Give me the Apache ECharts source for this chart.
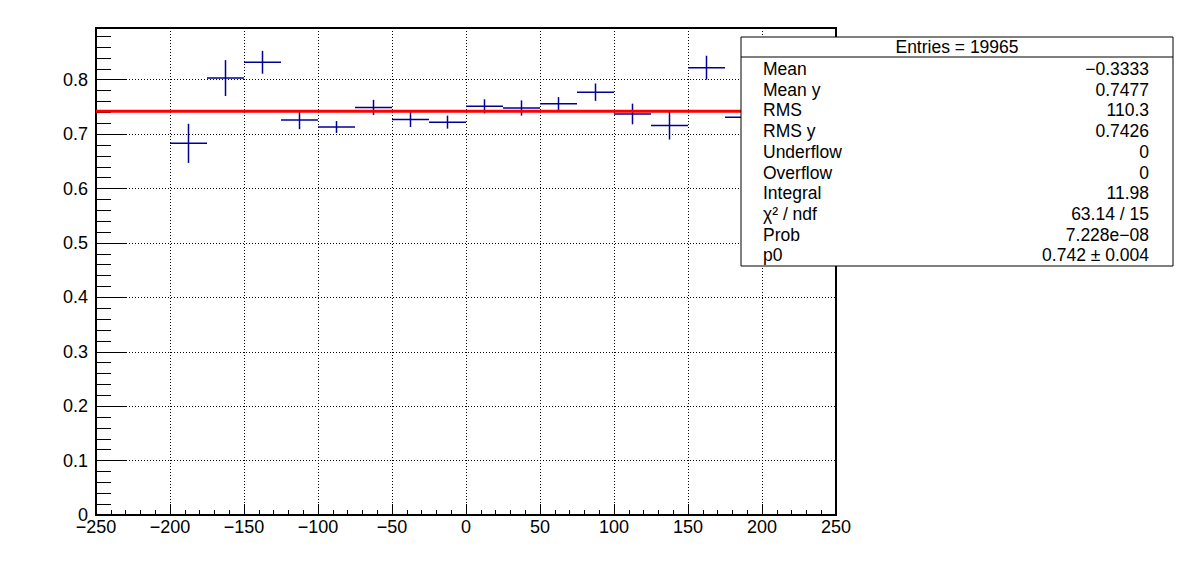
<!DOCTYPE html>
<html>
<head>
<meta charset="utf-8">
<script src="https://cdn.jsdelivr.net/npm/echarts@6/dist/echarts.min.js"></script>
<style>
html,body{margin:0;padding:0;background:#fff;}
#chart{width:1196px;height:572px;}
</style>
</head>
<body>
<div id="chart"></div>
<script>
// ---- data ----
const binCenters = [-187.5, -162.5, -137.5, -112.5, -87.5, -62.5, -37.5, -12.5, 12.5, 37.5, 62.5, 87.5, 112.5, 137.5, 162.5, 187.5];
const binHalfWidth = 12.5;
const profileMeans = [0.683, 0.803, 0.832, 0.726, 0.713, 0.749, 0.727, 0.722, 0.751, 0.748, 0.756, 0.777, 0.737, 0.716, 0.822, 0.731];
const profileErrors = [0.036, 0.033, 0.021, 0.017, 0.011, 0.014, 0.014, 0.012, 0.013, 0.014, 0.012, 0.016, 0.019, 0.026, 0.022, 0.015];
const fitP0 = 0.742;
const xRange = [-250, 250];
const yRange = [0, 0.895];
const statsTitle = 'Entries = 19965';
const statLabels = ['Mean', 'Mean y', 'RMS', 'RMS y', 'Underflow', 'Overflow', 'Integral', '\u03C7\u00B2 / ndf', 'Prob', 'p0'];
const statValues = ['\u22120.3333', '0.7477', '110.3', '0.7426', '0', '0', '11.98', '63.14 / 15', '7.228e\u221208', '0.742 \u00B1 0.004'];

const FONT = '"Liberation Sans", Arial, Helvetica, sans-serif';
const chart = echarts.init(document.getElementById('chart'), null, {renderer: 'svg'});

const crossData = binCenters.map((x, i) => [x, profileMeans[i], profileErrors[i]]);

// stats box graphics
const box = {x: 741, y: 37, w: 432, h: 229};
const SF = '17.5px ' + FONT;
const graphics = [
  {type: 'rect', z: 100, shape: {x: box.x, y: box.y, width: box.w, height: box.h},
   style: {fill: '#fff', stroke: '#000', lineWidth: 1}},
  {type: 'line', z: 101, shape: {x1: box.x, y1: 57, x2: box.x + box.w, y2: 57},
   style: {stroke: '#000', lineWidth: 1}},
  {type: 'text', z: 101, x: box.x + box.w / 2, y: 47,
   style: {text: statsTitle, font: SF, fill: '#000', textAlign: 'center', textVerticalAlign: 'middle'}}
];
statLabels.forEach((lab, i) => {
  const yy = 69 + i * 20.7;
  graphics.push({type: 'text', z: 101, x: 763, y: yy,
    style: {text: lab, font: SF, fill: '#000', textAlign: 'left', textVerticalAlign: 'middle'}});
  graphics.push({type: 'text', z: 101, x: 1149, y: yy,
    style: {text: statValues[i], font: SF, fill: '#000', textAlign: 'right', textVerticalAlign: 'middle'}});
});

const minusFmt = v => String(v).replace('-', '\u2212');

chart.setOption({
  animation: false,
  backgroundColor: '#fff',
  grid: {left: 96, top: 28, width: 740, height: 487, show: true, borderColor: '#000', borderWidth: 2, backgroundColor: 'transparent'},
  xAxis: {
    type: 'value', min: xRange[0], max: xRange[1], interval: 50,
    axisLine: {show: true, onZero: false, lineStyle: {color: '#000', width: 2}},
    axisTick: {show: true, inside: true, length: 11, lineStyle: {color: '#000', width: 1}},
    minorTick: {show: true, splitNumber: 5, length: 5, lineStyle: {color: '#000', width: 1}},
    splitLine: {show: true, lineStyle: {color: '#000', width: 1, type: [1, 2]}},
    axisLabel: {color: '#000', fontSize: 18, fontFamily: FONT, margin: 3, formatter: minusFmt, showMinLabel: true, showMaxLabel: true}
  },
  yAxis: {
    type: 'value', min: yRange[0], max: yRange[1], interval: 0.1,
    axisLine: {show: true, onZero: false, lineStyle: {color: '#000', width: 2}},
    axisTick: {show: true, inside: true, length: 30, lineStyle: {color: '#000', width: 1}},
    minorTick: {show: true, splitNumber: 5, length: 15, lineStyle: {color: '#000', width: 1}},
    splitLine: {show: true, lineStyle: {color: '#000', width: 1, type: [1, 2]}},
    axisLabel: {color: '#000', fontSize: 18, fontFamily: FONT, margin: 8, showMaxLabel: false,
      formatter: v => (Math.abs(v - yRange[1]) < 1e-9 ? '' : String(Math.round(v * 10) / 10))}
  },
  series: [
    {
      type: 'custom',
      data: crossData,
      z: 5,
      renderItem: function (params, api) {
        const x = api.value(0), y = api.value(1), e = api.value(2);
        const pL = api.coord([x - binHalfWidth, y]);
        const pR = api.coord([x + binHalfWidth, y]);
        const pT = api.coord([x, y + e]);
        const pB = api.coord([x, y - e]);
        const st = {stroke: '#000099', lineWidth: 1.5};
        return {type: 'group', children: [
          {type: 'line', shape: {x1: pL[0], y1: pL[1], x2: pR[0], y2: pR[1]}, style: st},
          {type: 'line', shape: {x1: pT[0], y1: pT[1], x2: pB[0], y2: pB[1]}, style: st}
        ]};
      }
    },
    {
      type: 'line',
      z: 6,
      data: [[xRange[0], fitP0], [xRange[1], fitP0]],
      symbol: 'none',
      lineStyle: {color: '#ff0000', width: 3},
      silent: true
    }
  ],
  graphic: graphics
});
</script>
</body>
</html>
